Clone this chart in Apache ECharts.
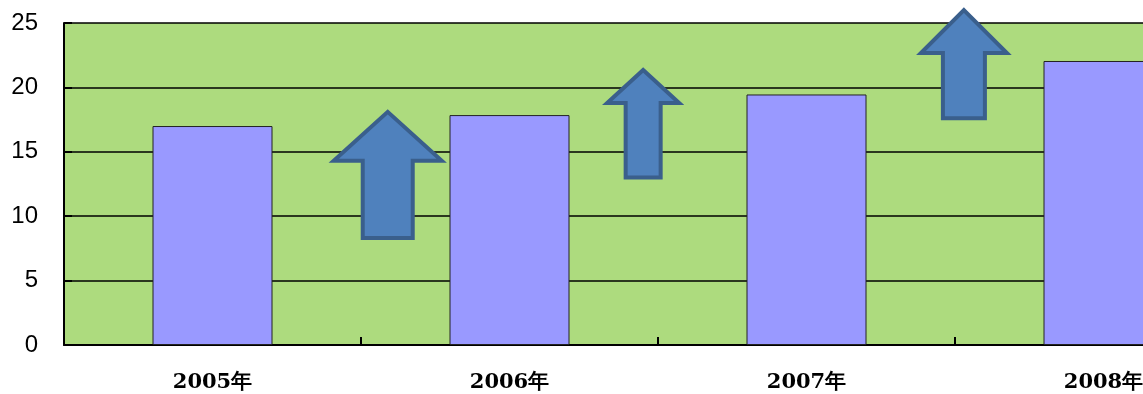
<!DOCTYPE html>
<html><head><meta charset="utf-8">
<script src="https://cdn.jsdelivr.net/npm/echarts@6/dist/echarts.min.js"></script>
<style>html,body{margin:0;padding:0;background:#fff}#c{width:1143px;height:394px}</style>
</head><body><div id="c"></div>
<script>
const categories = ['2005年', '2006年', '2007年', '2008年'];
const values = [17.0, 17.85, 19.45, 22.05];
const yTicks = [0, 5, 10, 15, 20, 25];
// arrows: position (category index, fractional), bottom value, tip value
const arrowPos = [0.59, 1.45, 2.53];
const arrowLow = [8.3, 13.0, 17.6];
const arrowHigh = [18.1, 21.35, 26.0];

// arrow pixel shapes [headWidth, shaftWidth, headHeight]
const arrowShape = [[108, 50, 49], [72, 35, 33], [86, 42, 43]];

const chart = echarts.init(document.getElementById('c'));
chart.setOption({
  animation: false,
  grid: { left: 64, top: 23, height: 322, width: 1188, show: true, backgroundColor: '#ADDB7E', borderWidth: 0, containLabel: false, outerBoundsMode: 'none' },
  xAxis: {
    type: 'category', data: categories,
    axisLine: { lineStyle: { color: '#000', width: 2 } },
    axisTick: { show: true, inside: true, length: 8, interval: 0, lineStyle: { color: '#000', width: 2 } },
    axisLabel: { margin: 27, color: '#000', fontSize: 21, fontWeight: 'bold', fontFamily: 'DejaVu Serif' }
  },
  yAxis: {
    type: 'value', min: yTicks[0], max: yTicks[yTicks.length - 1], interval: 5,
    axisLine: { show: true, lineStyle: { color: '#000', width: 2 } },
    axisTick: { show: true, inside: true, length: 8, lineStyle: { color: '#000', width: 2 } },
    splitLine: { lineStyle: { color: '#000', width: 1.5 } },
    axisLabel: { margin: 26, color: '#000', fontSize: 24, fontFamily: 'Liberation Sans', padding: [4, 0, 0, 0] }
  },
  series: [
    {
      type: 'bar', data: values, barWidth: 120,
      itemStyle: { color: '#9999FF', borderColor: '#222', borderWidth: 1 }
    },
    {
      type: 'custom', clip: false, z: 5,
      data: arrowPos.map((p, i) => [p, arrowLow[i], arrowHigh[i]]),
      renderItem: function (params, api) {
        const idx = params.dataIndex;
        const p = api.value(0);
        const base = Math.floor(p);
        const frac = p - base;
        const bw = api.size([1, 0])[0];
        const cx = api.coord([base, 0])[0] + frac * bw;
        const yb = api.coord([base, api.value(1)])[1];
        const yt = api.coord([base, api.value(2)])[1];
        const s = arrowShape[idx];
        const hw = s[0] / 2, sw = s[1] / 2, hh = s[2];
        const pts = [
          [cx, yt], [cx + hw, yt + hh], [cx + sw, yt + hh], [cx + sw, yb],
          [cx - sw, yb], [cx - sw, yt + hh], [cx - hw, yt + hh]
        ];
        return {
          type: 'polygon', shape: { points: pts },
          style: { fill: '#4F81BD', stroke: '#3A5F8C', lineWidth: 4, lineJoin: 'miter' }
        };
      }
    }
  ]
});
</script></body></html>
